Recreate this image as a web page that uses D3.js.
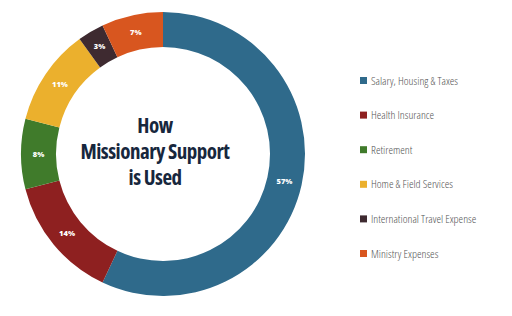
<!DOCTYPE html>
<html>
<head>
<meta charset="utf-8">
<script src="https://cdn.jsdelivr.net/npm/d3@7"></script>
<style>
  body { margin: 0; background: #fff; }
  svg { display: block; }
</style>
</head>
<body>
<div id="chart"></div>
<script>
// Data
const categories = ["Salary, Housing & Taxes", "Health Insurance", "Retirement",
    "Home & Field Services", "International Travel Expense", "Ministry Expenses"];
const shares = [57, 14, 8, 11, 3, 7];
const colors = ["#2f6a8b", "#8e2020", "#407b2b", "#ebb02d", "#3e2a30", "#d8561f"];
const titleLines = ["How", "Missionary Support", "is Used"];

let width = 512, height = 316;
let cx = 163, cy = 154, outerR = 142, innerR = 107;

let svg = d3.select("#chart").append("svg")
    .attr("width", width)
    .attr("height", height);

let data = categories.map((c, i) => ({name: c, value: shares[i], color: colors[i]}));

let pie = d3.pie()
    .sort(null)
    .value(d => d.value);

let arc = d3.arc()
    .innerRadius(innerR)
    .outerRadius(outerR);

let g = svg.append("g")
    .attr("transform", "translate(" + cx + "," + cy + ")");

let arcs = pie(data);

g.selectAll(".slice")
    .data(arcs)
    .enter().append("path")
    .attr("class", "slice")
    .attr("d", arc)
    .attr("fill", d => d.data.color);

// Percent labels
g.selectAll(".pct")
    .data(arcs)
    .enter().append("text")
    .attr("class", "pct")
    .attr("transform", d => "translate(" + arc.centroid(d) + ")")
    .attr("text-anchor", "middle")
    .attr("dy", "0.35em")
    .attr("font-family", "'Open Sans', sans-serif")
    .attr("font-weight", 800)
    .attr("font-size", 7.5)
    .attr("fill", "#fff")
    .text(d => d.data.value + "%");

// Center title (sits a little left of the ring centre in the original)
g.append("text")
    .attr("text-anchor", "middle")
    .attr("font-family", "'Open Sans', sans-serif")
    .attr("font-stretch", "condensed")
    .attr("font-weight", 700)
    .attr("font-size", 21)
    .attr("letter-spacing", -0.5)
    .attr("fill", "#17273d")
    .selectAll("tspan")
    .data(titleLines)
    .enter().append("tspan")
    .attr("x", -8)
    .attr("y", (d, i) => -21 + i * 26)
    .text(d => d);

// Legend
let legend = svg.append("g")
    .attr("transform", "translate(360,77)");

let rows = legend.selectAll(".row")
    .data(data)
    .enter().append("g")
    .attr("class", "row")
    .attr("transform", (d, i) => "translate(0," + (i * 34.6) + ")");

rows.append("rect")
    .attr("width", 7)
    .attr("height", 7)
    .attr("fill", d => d.color);

rows.append("text")
    .attr("x", 11)
    .attr("y", 7.5)
    .attr("font-family", "'Open Sans', sans-serif")
    .attr("font-stretch", "condensed")
    .attr("font-weight", 300)
    .attr("font-size", 11.5)
    .attr("fill", "#555")
    .text(d => d.name);
</script>
</body>
</html>
